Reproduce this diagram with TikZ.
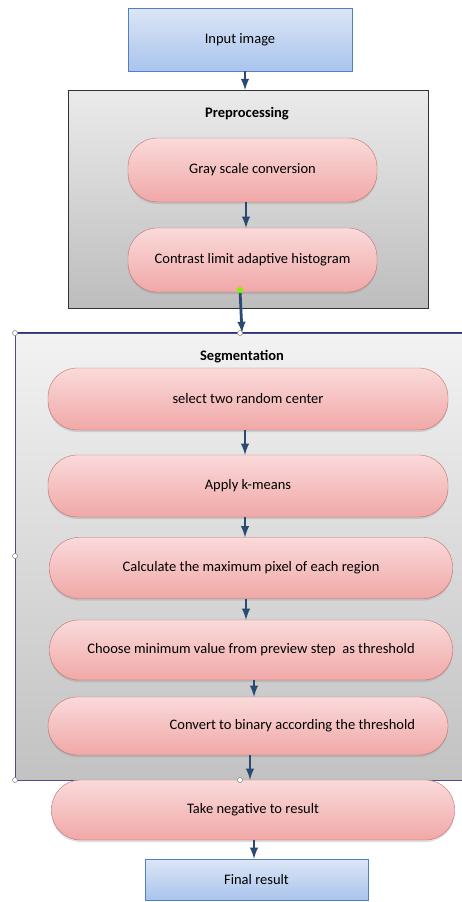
\documentclass[tikz,border=0pt]{standalone}
\usepackage{fontspec}
\setmainfont{Carlito}
\usetikzlibrary{shadows}

\definecolor{boxblue}{HTML}{4F81BD}
\definecolor{boxbluetop}{HTML}{DCE6F6}
\definecolor{boxbluebot}{HTML}{A9C4EC}
\definecolor{pinkedge}{HTML}{C0706E}
\definecolor{pinktop}{HTML}{FADADA}
\definecolor{pinkbot}{HTML}{F0A8A7}
\definecolor{arrowblue}{HTML}{2B4A72}

\tikzset{
  blubox/.style={draw=boxblue, top color=boxbluetop, bottom color=boxbluebot,
    inner sep=0pt, font=\fontsize{14.5}{17}\selectfont},
  pinkstep/.style={draw=pinkedge, top color=pinktop, bottom color=pinkbot,
    rounded corners=29pt, inner sep=0pt, font=\fontsize{14.5}{17}\selectfont,
    drop shadow={opacity=0.25, shadow xshift=0pt, shadow yshift=-2pt}},
  grpbox/.style={draw=black!80, line width=1pt, inner sep=0pt},
  grptitle/.style={font=\bfseries\fontsize{14.5}{17}\selectfont},
  flow/.style={-latex, draw=arrowblue, line width=2.8pt},
  handle/.style={draw=black!50, fill=white, line width=0.5pt}
}

\begin{document}
\begin{tikzpicture}[x=1pt, y=-1pt]
  \useasboundingbox (0,0) rectangle (461,902);

  % input
  \node[blubox, minimum width=224pt, minimum height=63pt] (input) at (240,39.5) {Input image};

  % preprocessing group
  \node[grpbox, top color=black!8, bottom color=black!26,
        minimum width=360pt, minimum height=218pt] (prep) at (248,199) {};
  \node[grptitle] (preptitle) at (247,114) {Preprocessing};
  \node[pinkstep, minimum width=249pt, minimum height=64pt] (gray) at (252.5,170) {Gray scale conversion};
  \node[pinkstep, minimum width=249pt, minimum height=64pt] (clahe) at (252.5,260) {Contrast limit adaptive histogram};

  % segmentation group
  \node[grpbox, draw=black!30!blue!40!gray, top color=black!5, bottom color=black!24,
        minimum width=447pt, minimum height=447pt] (seg) at (238.5,556.5) {};
  \draw[line width=1.5pt, black!70!blue!60!gray] (seg.north west) -- (seg.north east);
  \node[grptitle] (segtitle) at (242,357) {Segmentation};
  \node[pinkstep, minimum width=400pt, minimum height=62pt] (sel) at (248,399) {select two random center};
  \node[pinkstep, minimum width=400pt, minimum height=62pt] (kmeans) at (248,486) {Apply k-means};
  \node[pinkstep, minimum width=403pt, minimum height=61pt] (calc) at (251,568) {Calculate the maximum pixel of each region};
  \node[pinkstep, minimum width=403pt, minimum height=60pt] (choose) at (251,650) {Choose minimum value from preview step \ as threshold};
  \node[pinkstep, minimum height=58pt, text width=334pt, inner xsep=33pt, align=flush right] (conv) at (248,726) {Convert to binary according the threshold};

  % after segmentation
  \node[pinkstep, minimum width=403pt, minimum height=60pt] (neg) at (253,810) {Take negative to result};
  \node[blubox, minimum width=223pt, minimum height=41pt] (final) at (256.5,879.5) {Final result};

  % arrows
  \coordinate (dot) at (240,290);
  \draw[flow] (input.south -| 245,0) -- (245,90);
  \draw[flow] (gray.south -| 246,0) -- (clahe.north -| 246,0);
  \draw[flow] (dot) -- (242,333);
  \draw[flow] (sel.south -| 245,0) -- (kmeans.north -| 245,0);
  \draw[flow] (kmeans.south -| 245,0) -- (calc.north -| 245,0);
  \draw[flow] (calc.south -| 246,0) -- (choose.north -| 246,0);
  \draw[flow] (choose.south -| 254,0) -- (conv.north -| 254,0);
  \draw[flow] (conv.south -| 250,0) -- (neg.north -| 250,0);
  \draw[flow] (neg.south -| 254,0) -- (final.north -| 254,0);

  % selection handles
  \fill[green!60!yellow, draw=orange!70] (dot) circle (3pt);
  \foreach \hx/\hy in {15/333, 15/556, 15/780, 240/333, 240/780}
    \draw[handle] (\hx,\hy) circle (2.5pt);
\end{tikzpicture}
\end{document}
